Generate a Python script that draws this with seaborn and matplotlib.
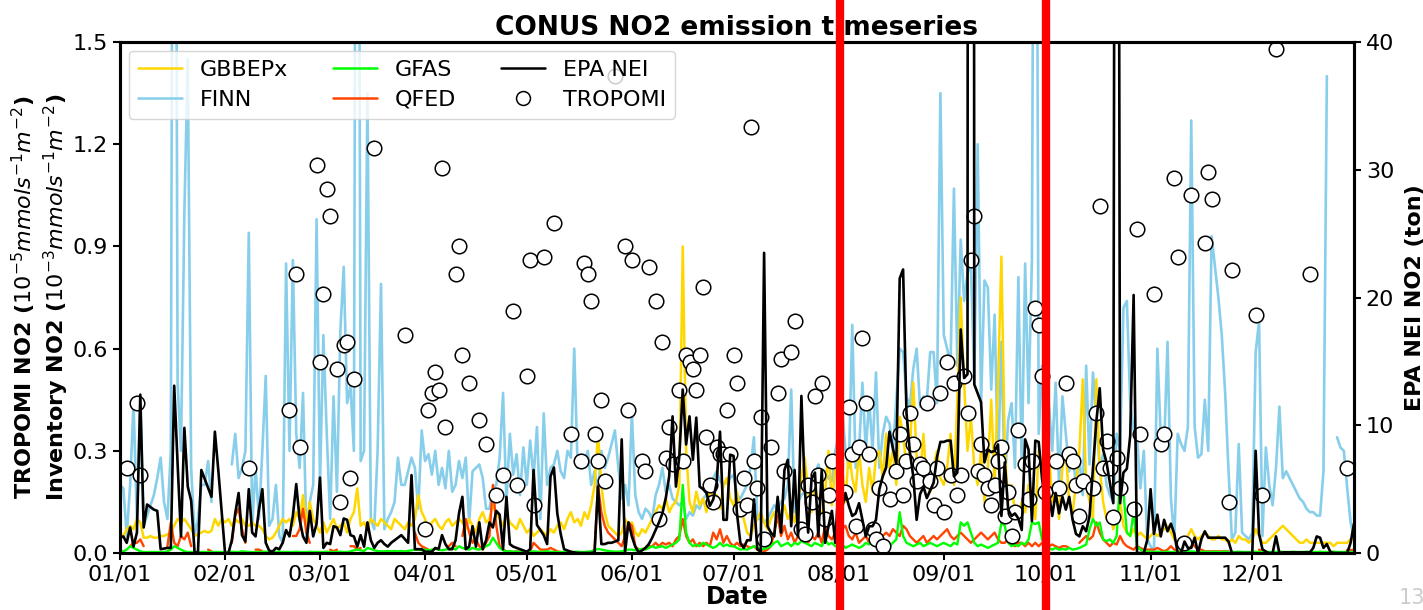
import numpy as np
import pandas as pd
import matplotlib
matplotlib.use("Agg")
import matplotlib.pyplot as plt
import matplotlib.dates as mdates
from matplotlib.lines import Line2D
import seaborn as sns

n = np.nan
year_start = "2019-01-01"

# ---------------- daily series (Jan..Dec), left axis (10^-3 mmol s-1 m-2) ----------------
gbbepx = (
    [0.06,0.05,0.07,0.08,0.07,0.10,0.09,0.045,0.045,0.05, 0.045,0.045,0.05,0.05,0.055,0.06,0.08,0.10,0.09,0.10, 0.085,0.07,0.05,0.055,0.06,0.065,0.06,0.065,0.10,0.08, 0.10]
    + [0.09,0.10,0.08,0.10,0.09,0.10,0.08,0.08,0.09,0.08, 0.08,0.07,0.05,0.04,0.045,0.06,0.08,0.10,0.09,0.10, 0.08,0.12,0.10,0.17,0.08,0.15,0.10,0.08]
    + [0.06,0.09,0.06,0.08,0.10,0.07,0.08,0.09,0.06,0.10, 0.12,0.19,0.08,0.09,0.07,0.10,0.09,0.08,0.10,0.09, 0.08,0.07,0.10,0.09,0.08,0.07,0.09,0.08,0.10,0.17, 0.12]
    + [0.10,0.06,0.09,0.10,0.08,0.07,0.09,0.10,0.08,0.09, 0.10,0.09,0.07,0.10,0.08,0.06,0.10,0.12,0.09,0.10, 0.14,0.12,0.10,0.08,0.11,0.09,0.08,0.07,0.10,0.08]
    + [0.06,0.07,0.05,0.06,0.07,0.06,0.05,0.07,0.06,0.08, 0.09,0.07,0.10,0.12,0.09,0.10,0.08,0.12,0.10,0.14, 0.20,0.35,0.20,0.12,0.08,0.07,0.06,0.05,0.06,0.10, 0.08]
    + [0.09,0.06,0.05,0.07,0.06,0.08,0.10,0.12,0.14,0.13, 0.16,0.12,0.14,0.15,0.20,0.90,0.30,0.15,0.12,0.18, 0.14,0.16,0.12,0.20,0.15,0.17,0.13,0.20,0.22,0.16]
    + [0.14,0.18,0.12,0.10,0.06,0.05,0.08,0.10,0.12,0.09, 0.07,0.10,0.12,0.09,0.11,0.14,0.10,0.12,0.09,0.15, 0.22,0.28,0.18,0.12,0.20,0.15,0.10,0.18,0.30,0.14, 0.26]
    + [0.20,0.25,0.15,0.30,0.22,0.18,0.30,0.20,0.15,0.25, 0.18,0.28,0.30,0.22,0.35,0.25,0.30,0.20,0.40,0.35, 0.25,0.30,0.50,0.28,0.22,0.35,0.20,0.18,0.25,0.30, 0.22]
    + [0.20,0.25,0.35,0.20,0.45,0.75,0.50,0.30,0.40,0.25, 0.20,0.30,0.15,0.25,0.45,0.20,0.50,0.87,0.30,0.15, 0.20,0.12,0.10,0.15,0.12,0.20,0.18,0.10,0.30,0.25]
    + [0.25,0.30,0.15,0.20,0.10,0.25,0.30,0.15,0.12,0.20, 0.30,0.51,0.20,0.15,0.10,0.51,0.25,0.15,0.10,0.12, 0.07,0.10,0.15,0.08,0.06,0.05,0.07,0.05,0.06,0.05, 0.04]
    + [0.05,0.06,0.05,0.06,0.07,0.08,0.06,0.04,0.03,0.03, 0.04,0.05,0.07,0.05,0.04,0.05,0.06,0.05,0.04,0.04, 0.05,0.04,0.04,0.03,0.04,0.03,0.05,0.04,0.04,0.03]
    + [0.04,0.07,0.05,0.03,0.03,0.04,0.05,0.06,0.07,0.08, 0.07,0.06,0.05,0.04,0.03,0.03,0.04,0.03,0.03,0.03, 0.03,0.03,0.03,0.03,0.02,0.03,0.03,0.03,0.03,0.04, 0.04]
)

finn = (
    [0.20,0.19,0.05,0.20,0.44,0.10,0.44,0.08,0.11,0.14, 0.17,0.22,0.28,0.15,0.10,0.30,4.0,0.50,0.30,1.0, 1.45,0.25,0.05,0.10,0.20,0.20,0.27,0.15,n,n, n]
    + [n,n,0.26,0.35,0.22,0.25,0.30,0.94,0.08,0.25, 0.10,0.30,0.52,0.08,0.10,0.20,0.05,0.03,0.85,0.30, 0.86,0.35,0.25,0.47,0.05,0.15,0.20,0.98]
    + [0.20,0.64,0.35,0.10,0.46,0.18,0.65,0.84,0.44,0.49, 0.30,4.0,0.27,0.30,1.35,0.10,0.07,0.30,0.79,0.07, 0.10,0.12,0.15,0.28,0.20,0.20,0.24,0.28,0.25,0.13, 0.36]
    + [0.27,0.29,0.23,0.30,0.20,0.25,0.19,0.30,0.18,0.20, 0.27,0.22,0.28,0.09,0.24,0.25,0.26,0.22,0.13,0.13, 0.19,0.20,0.28,0.47,0.15,0.35,0.23,0.29,0.17,0.31]
    + [0.20,0.33,0.22,0.37,0.10,0.41,0.20,0.25,0.26,0.30, 0.24,0.22,0.30,0.28,0.60,0.25,0.26,0.27,0.30,0.20, 0.24,0.18,0.30,0.25,0.28,0.32,0.36,0.25,0.16,0.20, 0.14]
    + [0.41,0.17,0.12,0.10,0.13,0.12,0.10,0.17,0.20,0.25, 0.18,0.20,0.16,0.15,0.14,0.15,0.10,0.12,0.11,0.14, 0.13,0.16,0.17,0.20,0.22,0.24,0.21,0.20,0.21,0.22]
    + [0.23,0.17,0.16,0.18,0.20,0.25,0.34,0.10,0.10,0.09, 0.10,0.12,0.14,0.13,0.15,0.16,0.20,0.48,0.12,0.15, 0.17,0.18,0.20,0.19,0.23,0.26,0.22,0.24,0.22,0.21, 0.30]
    + [0.35,0.43,0.30,0.25,0.67,0.25,0.30,0.50,0.30,0.45, 0.30,0.53,0.25,0.35,0.40,0.38,0.30,0.45,0.60,0.59, 0.46,0.43,0.54,0.60,0.43,0.46,0.45,0.59,0.59,0.44, 1.35]
    + [0.64,0.60,0.55,1.07,0.55,0.92,0.74,0.82,0.85,0.50, 1.20,0.44,0.80,0.78,0.48,0.70,0.25,0.62,0.20,0.39, 0.44,0.25,0.81,0.25,0.85,0.44,0.86,3.5,0.35,0.55]
    + [0.50,0.44,0.30,0.50,0.20,0.46,0.35,0.24,0.29,0.20, 0.28,0.17,0.55,0.26,0.53,0.39,0.25,0.29,0.20,0.17, 0.15,0.35,0.30,0.72,0.74,0.44,0.36,0.34,0.19,0.30, 0.04]
    + [0.02,0.005,0.60,0.34,0.31,0.62,0.16,0.04,0.35,0.32, 0.30,0.37,1.27,0.37,0.28,0.29,0.45,0.30,0.93,0.84, 0.75,0.64,0.47,0.24,0.04,0.06,0.32,0.06,0.05,0.04]
    + [0.06,0.59,0.68,0.05,0.31,0.20,0.14,0.25,0.43,0.22, 0.24,0.22,0.20,0.18,0.16,0.15,0.13,0.12,0.12,0.11, 0.11,0.24,1.40,n,n,0.34,0.31,0.30,0.19,0.09, 0.05]
)

gfas = (
    [0.005,0.005,0.01,0.02,0.015,0.01,0.005,0.003,0.003,0.003, 0.003,0.003,0.003,0.003,0.005,0.01,0.02,0.015,0.01,0.005, 0.003,0.003,0.003,0.003,0.003,0.003,0.003,0.003,0.003,0.003, 0.003]
    + [0.003,0.003,0.004,0.003,0.003,0.005,0.004,0.003,0.003,0.003, 0.003,0.003,0.004,0.003,0.003,0.003,0.004,0.003,0.003,0.003, 0.003,0.004,0.003,0.003,0.003,0.004,0.003,0.003]
    + [0.003,0.003,0.004,0.003,0.003,0.003,0.004,0.003,0.003,0.005, 0.008,0.01,0.008,0.006,0.015,0.012,0.008,0.006,0.005,0.005, 0.006,0.005,0.006,0.005,0.006,0.005,0.006,0.008,0.01,0.01, 0.008]
    + [0.01,0.008,0.01,0.012,0.01,0.008,0.01,0.012,0.015,0.01, 0.02,0.015,0.012,0.01,0.015,0.012,0.01,0.015,0.02,0.025, 0.045,0.03,0.015,0.008,0.005,0.005,0.004,0.004,0.003,0.003]
    + [0.003,0.004,0.005,0.004,0.003,0.004,0.005,0.004,0.003,0.003, 0.003,0.003,0.004,0.003,0.003,0.004,0.003,0.003,0.004,0.005, 0.008,0.012,0.01,0.008,0.006,0.005,0.004,0.004,0.005,0.008, 0.01]
    + [0.01,0.008,0.01,0.012,0.01,0.015,0.02,0.015,0.018,0.02, 0.015,0.02,0.025,0.03,0.04,0.20,0.06,0.03,0.02,0.025, 0.02,0.03,0.025,0.02,0.015,0.02,0.03,0.02,0.025,0.02]
    + [0.02,0.015,0.01,0.012,0.01,0.015,0.02,0.015,0.01,0.012, 0.015,0.02,0.03,0.035,0.02,0.025,0.03,0.02,0.03,0.025, 0.035,0.03,0.025,0.02,0.03,0.025,0.02,0.04,0.025,0.03, 0.02]
    + [0.02,0.025,0.015,0.02,0.025,0.02,0.015,0.02,0.03,0.025, 0.055,0.03,0.02,0.025,0.03,0.02,0.03,0.04,0.12,0.05, 0.03,0.025,0.02,0.025,0.03,0.02,0.025,0.03,0.025,0.02, 0.025]
    + [0.03,0.025,0.02,0.03,0.025,0.09,0.08,0.09,0.06,0.03, 0.02,0.025,0.02,0.015,0.02,0.025,0.03,0.09,0.08,0.03, 0.02,0.025,0.02,0.03,0.025,0.04,0.09,0.085,0.09,0.04]
    + [0.02,0.015,0.01,0.015,0.01,0.012,0.01,0.015,0.01,0.012, 0.015,0.02,0.025,0.07,0.10,0.08,0.09,0.04,0.035,0.04, 0.03,0.05,0.22,0.18,0.06,0.05,0.12,0.02,0.01,0.005, 0.004]
    + [0.004,0.003,0.004,0.003,0.003,0.004,0.003,0.003,0.004,0.003, 0.003,0.004,0.005,0.004,0.003,0.003,0.004,0.003,0.003,0.004, 0.003,0.003,0.004,0.003,0.003,0.003,0.004,0.003,0.003,0.003]
    + [0.003,0.004,0.003,0.003,0.004,0.003,0.003,0.003,0.004,0.003, 0.003,0.003,0.004,0.003,0.003,0.003,0.004,0.003,0.003,0.003, 0.004,0.003,0.003,0.003,0.004,0.003,0.003,0.003,0.004,0.003, 0.003]
)

qfed = (
    [n,n,n,0.02,0.03,0.03,0.04,0.02,n,n, n,n,n,n,0.02,0.09,0.03,0.02,0.05,0.04, 0.06,0.02,n,n,n,n,0.01,0.005,n,n, n]
    + [n,n,0.03,0.11,0.13,0.07,0.03,n,n,0.01, 0.01,0.005,n,n,n,n,n,n,n,n, 0.05,0.05,0.07,0.13,0.06,0.03,n,n]
    + [n,n,n,0.01,0.005,0.01,n,n,n,0.02, 0.02,0.01,0.015,n,n,n,n,n,n,n, n,n,n,n,n,n,n,n,0.06,0.03, 0.02]
    + [0.015,0.01,n,n,n,n,n,0.02,0.03,0.02, n,0.05,0.10,0.06,0.03,0.04,0.02,0.01,0.03,0.05, 0.20,0.08,0.02,0.01,0.005,0.005,0.003,0.005,0.003,0.003]
    + [0.003,0.005,0.03,0.02,0.01,0.01,0.01,0.015,0.01,0.005, 0.003,0.002,0.002,0.002,0.002,0.002,0.002,0.002,0.002,0.003, 0.01,0.20,0.12,0.08,0.06,0.05,0.04,0.03,0.02,0.05, 0.09]
    + [0.08,0.02,0.01,0.01,0.015,0.02,0.02,0.03,0.02,0.03, 0.025,0.03,0.02,0.04,0.05,0.10,0.05,0.03,0.04,0.02, 0.03,0.02,0.03,0.02,0.06,0.04,0.07,0.03,0.05,0.03]
    + [0.02,0.03,0.02,0.025,0.02,0.015,0.02,0.01,0.005,0.005, 0.01,0.02,0.06,0.11,0.05,0.08,0.04,0.06,0.03,0.05, 0.04,0.07,0.03,0.05,0.04,0.06,0.03,0.08,0.05,0.04, 0.06]
    + [0.05,0.07,0.08,0.05,0.04,0.06,0.03,0.04,0.05,0.03, 0.04,0.06,0.04,0.05,0.06,0.05,0.07,0.06,0.05,0.08, 0.07,0.05,0.04,0.03,0.04,0.05,0.03,0.04,0.05,0.04, 0.05]
    + [0.06,0.07,0.05,0.04,0.05,0.06,0.05,0.04,0.03,0.04, 0.05,0.06,0.05,0.04,0.05,0.06,0.04,0.03,0.03,0.04, 0.03,0.02,0.03,0.03,0.02,0.03,0.02,0.03,0.02,0.03]
    + [0.02,0.02,0.025,0.02,0.015,0.02,0.02,0.015,n,n, 0.03,0.04,0.05,0.04,0.05,0.09,0.06,0.04,0.03,0.02, 0.03,0.025,0.05,0.03,0.02,0.015,0.01,0.02,0.015,0.01, 0.01]
    + [0.01,0.01,0.015,0.01,0.005,0.01,0.02,0.01,0.005,0.005, 0.01,0.02,0.03,0.02,0.01,0.01,0.005,0.005,0.005,0.005, 0.005,0.005,0.005,0.005,n,n,n,n,n,n]
    + [n,n,0.01,0.005,0.005,n,n,n,n,n, n,n,n,n,n,n,n,n,n,n, n,n,n,n,n,n,n,n,0.01,0.01, 0.01]
)

# ---------------- EPA NEI (right axis, ton) ----------------
epa_nei = (
    [1.2,1.3,0.8,2.0,0.5,1.6,12.4,2.0,3.8,3.6, 3.4,3.3,0.3,0.35,0.4,0.4,13.1,7.0,1.3,9.8, 5.2,4.1,0.1,0.0,6.5,5.8,5.1,4.4,9.5,6.5, 3.3]
    + [0.0,0.0,1.0,3.1,4.7,1.4,0.9,5.0,1.6,1.3, 3.4,5.0,0.8,0.2,0.1,0.4,0.3,0.8,1.8,1.3, 2.9,5.4,2.6,1.3,0.8,3.3,1.3,2.3]
    + [5.9,0.4,0.8,0.7,2.1,2.0,1.4,2.7,2.6,1.4, 1.3,0.5,1.4,0.5,2.4,1.0,0.4,0.8,1.0,0.7, 0.5,0.8,1.0,1.2,1.4,1.1,0.8,6.1,0.3,0.3, 0.3]
    + [0.1,0.1,0.1,0.4,0.3,1.4,0.7,0.3,0.3,1.0, 3.1,4.4,0.3,0.5,2.1,0.5,2.4,0.3,1.0,2.4, 2.0,3.3,3.0,0.3,4.4,0.7,0.5,0.4,0.3,0.2]
    + [0.1,0.3,6.5,2.2,1.8,1.4,0.7,6.0,6.7,3.1, 1.5,0.3,0.2,0.1,0.05,0.0,0.0,0.0,0.0,0.0, 0.05,5.2,0.7,0.7,0.8,0.8,0.9,1.0,8.9,0.1, 2.4]
    + [1.3,0.5,0.05,0.2,0.4,0.7,1.2,1.8,2.4,3.1, 4.3,6.0,10.7,5.2,7.6,12.8,8.5,10.7,7.3,10.6, 5.2,5.0,4.7,3.7,4.2,5.5,9.5,2.6,2.6,7.7]
    + [7.6,3.1,0.8,0.4,1.0,1.0,4.2,0.3,0.1,23.5, 2.1,1.6,1.3,4.4,1.6,6.5,7.3,2.1,6.5,1.3, 12.3,5.0,1.6,5.8,6.3,1.3,6.5,0.8,2.1,3.3, 0.8]
    + [5.5,3.5,4.7,3.7,2.9,3.1,3.9,2.6,1.3,2.1, 2.1,2.6,5.0,6.0,6.7,9.5,8.2,7.0,21.5,22.2, 11.0,7.9,6.0,2.6,4.6,5.2,4.3,4.9,5.5,7.5, 8.7]
    + [8.7,8.8,8.8,6.0,6.3,17.5,13.7,14.0,500.0,13.2, 12.5,11.8,7.1,8.1,7.9,8.0,8.5,2.9,7.1,3.4, 2.9,3.1,2.7,1.8,8.9,8.1,2.5,8.8,8.7,5.8]
    + [4.0,4.7,2.9,4.7,3.1,4.4,3.4,4.4,2.6,1.5, 1.3,2.1,1.7,2.9,6.6,10.3,12.9,8.1,7.1,5.5, 3.9,150.0,3.9,6.3,6.6,9.2,20.2,0.0,0.0,0.0, 1.0]
    + [5.0,1.5,3.0,1.3,2.6,1.7,2.3,1.5,0.0,0.0, 0.9,0.4,0.4,1.2,0.0,1.1,1.7,1.2,1.2,1.2, 1.2,1.2,1.2,0.9,0.0,0.0,0.0,0.0,0.0,0.0]
    + [0.0,8.0,1.5,0.3,0.1,0.0,0.0,1.3,0.0,0.05, 0.05,0.05,0.05,0.05,0.05,0.05,0.05,0.05,0.4,1.3, 1.2,0.4,0.7,0.1,0.0,0.0,0.0,0.0,0.0,0.8, 2.3]
)

# ---------------- TROPOMI (day of year index, value) ----------------
tropomi_day = [2,5,6,38,50,52,53,58,59,60,61,62,64,65,66,67,68,69,75,84,90,91,92,93,94,95,96,99,100,101,103,106,
               108,111,113,116,117,120,121,122,125,128,133,136,137,138,139,140,141,142,143,146,149,150,151,154,155,156,
               158,159,160,161,162,163,165,166,167,168,169,170,171,172,173,174,175,176,177,178,179,180,181,182,183,184,
               185,186,187,188,189,190,192,194,195,196,198,199,201,202,203,204,205,206,207,208,209,210,214,215,216,217,
               218,219,220,221,222,223,224,225,227,229,230,231,232,233,234,235,236,237,238,239,240,241,242,243,244,245,
               246,247,248,249,250,251,252,253,254,255,256,257,258,259,260,261,262,263,264,265,267,268,269,270,271,272,
               273,276,277,279,280,281,282,283,284,287,288,289,290,291,292,293,294,295,299,300,301,305,307,308,311,312,
               314,316,320,321,322,327,328,335,337,341,351,362]
tropomi_val = [0.25,0.44,0.23,0.25,0.42,0.82,0.31,1.14,0.56,0.76,1.07,0.99,0.54,0.15,0.61,0.62,0.22,0.51,1.19,0.64,0.07,0.42,0.47,0.53,0.48,1.13,0.37,0.82,0.90,0.58,0.50,0.39,
               0.32,0.17,0.23,0.71,0.20,0.52,0.86,0.14,0.87,0.97,0.35,0.27,0.85,0.82,0.74,0.35,0.27,0.45,0.21,1.40,0.90,0.42,0.86,0.27,0.24,0.84,
               0.74,0.10,0.62,0.28,0.37,0.26,0.48,0.27,0.58,0.56,0.54,0.48,0.58,0.78,0.34,0.20,0.15,0.31,0.29,0.29,0.42,0.29,0.58,0.50,0.13,0.22,
               0.14,1.25,0.27,0.19,0.40,0.04,0.31,0.47,0.57,0.24,0.59,0.68,0.07,0.055,0.20,0.15,0.46,0.23,0.50,0.10,0.17,0.27,0.18,0.43,0.29,0.08,
               0.31,0.63,0.44,0.29,0.07,0.04,0.19,0.02,0.16,0.24,0.35,0.17,0.27,0.41,0.32,0.21,0.26,0.25,0.44,0.21,0.14,0.25,0.47,0.12,0.56,0.23,
               0.50,0.17,0.23,0.52,0.41,0.86,0.99,0.24,0.32,0.23,0.19,0.14,0.20,0.27,0.31,0.11,0.18,0.05,0.12,0.36,0.26,0.16,0.27,0.72,0.67,0.52,
               0.18,0.27,0.19,0.50,0.29,0.27,0.20,0.11,0.21,0.19,0.41,1.02,0.25,0.33,0.25,0.105,0.28,0.19,0.13,0.95,0.35,0.76,0.32,0.35,1.10,0.87,
               0.03,1.05,0.91,1.12,1.04,0.15,0.83,0.70,0.17,1.48,0.82,0.25]

series_names = ["GBBEPx", "FINN", "GFAS", "QFED", "EPA NEI", "TROPOMI"]
series_colors = ["gold", "skyblue", "lime", "orangered", "black", "black"]
left_ticks = [0.0, 0.3, 0.6, 0.9, 1.2, 1.5]
right_ticks = [0, 10, 20, 30, 40]
marked_dates = ["2019-08-01 09:00", "2019-10-01 05:00"]

for name, arr in [("gbbepx", gbbepx), ("finn", finn), ("gfas", gfas), ("qfed", qfed), ("epa", epa_nei)]:
    assert len(arr) == 365, (name, len(arr))
assert len(tropomi_day) == len(tropomi_val), (len(tropomi_day), len(tropomi_val))

dates = pd.date_range(year_start, periods=365, freq="D")
trop_dates = pd.Timestamp(year_start) + pd.to_timedelta(tropomi_day, unit="D")

sns.set_theme(style="ticks", rc={"text.color": "black", "axes.labelcolor": "black",
                                 "xtick.color": "black", "ytick.color": "black",
                                 "axes.edgecolor": "black"})
plt.rcParams["font.family"] = ["DejaVu Sans"]
plt.rcParams["mathtext.fontset"] = "dejavusans"

fig = plt.figure(figsize=(14.23, 6.10), dpi=100)
ax = fig.add_axes([0.0843, 0.0934, 0.8672, 0.8376])
ax2 = ax.twinx()


def draw(axis, values, color, lw, z):
    df = pd.DataFrame({"date": dates, "v": values})
    df["seg"] = df["v"].isna().cumsum()
    df = df.dropna()
    sns.lineplot(data=df, x="date", y="v", units="seg", estimator=None, color=color,
                 lw=lw, ax=axis, legend=False, zorder=z)


draw(ax, finn, series_colors[1], 1.9, 2)
draw(ax, gbbepx, series_colors[0], 1.8, 3)
draw(ax, qfed, series_colors[3], 1.7, 4)
draw(ax, gfas, series_colors[2], 1.7, 5)
sns.scatterplot(x=trop_dates, y=tropomi_val, ax=ax, marker="o", s=110,
                facecolor="white", edgecolor="black", linewidth=1.1, zorder=6, legend=False)
draw(ax2, epa_nei, series_colors[4], 1.9, 3)

ax.set_xlim(dates[0], dates[-1])
ax.set_ylim(0, 1.5)
ax2.set_ylim(0, 40)
ax.set_yticks(left_ticks)
ax.set_yticklabels([f"{t:.1f}" for t in left_ticks])
ax2.set_yticks(right_ticks)
ax.xaxis.set_major_locator(mdates.MonthLocator())
ax.xaxis.set_major_formatter(mdates.DateFormatter("%m/%d"))

ax.tick_params(axis="both", labelsize=16, width=1.5, length=5, colors="black")
ax2.tick_params(axis="y", labelsize=16, width=1.5, length=5, colors="black")
for a in (ax, ax2):
    for sp in a.spines.values():
        sp.set_linewidth(2.2)
        sp.set_color("black")

ax.set_xlabel("Date", fontsize=17, fontweight="bold", labelpad=0, color="black")
ax.set_ylabel("TROPOMI NO2 ($10^{-5}mmols^{-1}m^{-2}$)\nInventory NO2 ($10^{-3}mmols^{-1}m^{-2}$)",
              fontsize=16, fontweight="bold", labelpad=1, color="black")
ax2.set_ylabel("EPA NEI NO2 (ton)", fontsize=16, fontweight="bold", labelpad=8, color="black")
ax.set_title("CONUS NO2 emission timeseries", fontsize=19, fontweight="bold", pad=5, color="black")

handles = [
    Line2D([], [], color=series_colors[0], lw=1.8),
    Line2D([], [], color=series_colors[1], lw=1.8),
    Line2D([], [], color=series_colors[2], lw=1.8),
    Line2D([], [], color=series_colors[3], lw=1.8),
    Line2D([], [], color=series_colors[4], lw=1.8),
    Line2D([], [], color="black", marker="o", markerfacecolor="white", markersize=10,
           markeredgewidth=1.1, lw=0),
]
leg = ax2.legend(handles, series_names, ncol=3, loc="upper left", fontsize=16,
                 frameon=True, framealpha=0.8, borderaxespad=0.4, columnspacing=2.0,
                 handlelength=2.0, labelspacing=0.45)
leg.set_zorder(20)
for t in leg.get_texts():
    t.set_color("black")

for d in marked_dates:
    ax2.axvline(pd.Timestamp(d), ymin=-0.125, ymax=1.09, color="red", lw=6,
                clip_on=False, zorder=30)

fig.text(0.983, 0.004, "13", fontsize=15, color="#cccccc", ha="left", va="bottom")

fig.savefig("out.png", dpi=100)
